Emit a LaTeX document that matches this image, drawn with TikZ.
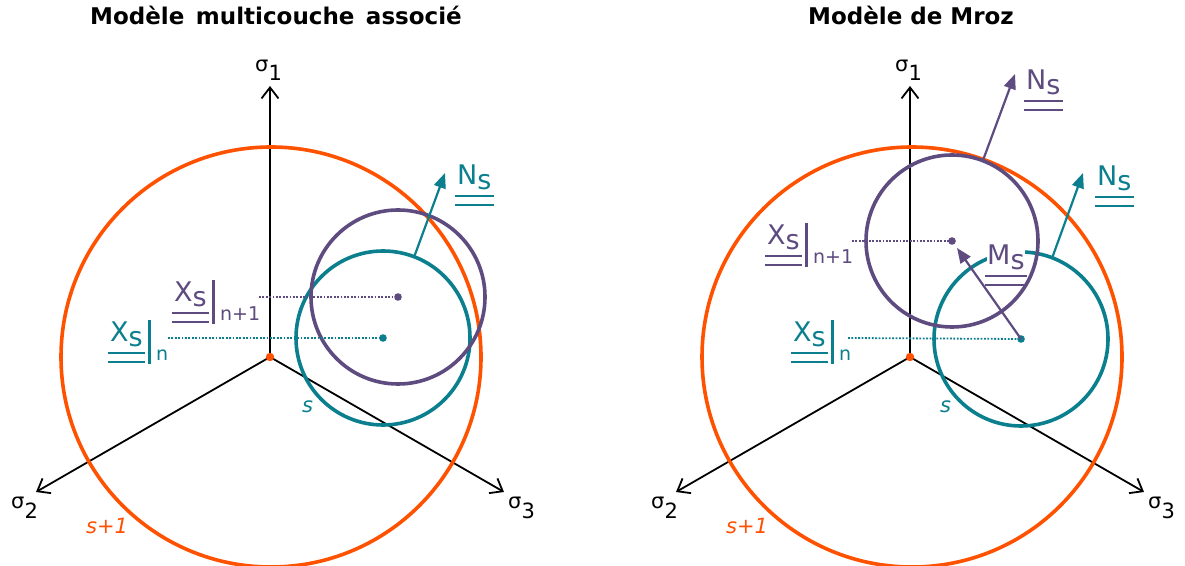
\documentclass[tikz,border=0pt]{standalone}
\usepackage{fontspec}
\setmainfont{DejaVu Sans}
\usetikzlibrary{arrows.meta}
\definecolor{myorange}{HTML}{FF5200}
\definecolor{myteal}{HTML}{0B7F8E}
\definecolor{mypurple}{HTML}{5E4B80}
\newcommand\dblul[2]{%
  \draw[#2,line width=2.2pt] ([xshift=-2pt,yshift=-11pt]#1.base west) -- ([xshift=2pt,yshift=-11pt]#1.base east);
  \draw[#2,line width=2.2pt] ([xshift=-2pt,yshift=-20pt]#1.base west) -- ([xshift=2pt,yshift=-20pt]#1.base east);}
\newcommand\vbar[2]{%
  \draw[#2,line width=2.2pt] ([xshift=6.5pt,yshift=22pt]#1.base east) -- ([xshift=6.5pt,yshift=-22pt]#1.base east);}
\begin{document}
\begin{tikzpicture}[x=1pt,y=1pt,
  axis/.style={line width=1.8pt,-{Straight Barb[length=11pt,width=17pt]}},
  ring/.style={circle,draw,line width=3.6pt,inner sep=0pt,outer sep=0pt,minimum size=#1},
  normarrow/.style={line width=2.2pt,-{Triangle[length=15pt,width=12pt]}},
  guide/.style={line width=1.8pt,dash pattern=on 1.8pt off 1.6pt},
  bigfont/.style={font=\fontsize{27}{31}\selectfont,inner sep=0pt,anchor=base west},
  subfont/.style={font=\fontsize{19}{23}\selectfont,inner sep=0pt,anchor=base west},
  sigfont/.style={font=\fontsize{21}{25}\selectfont,inner sep=0pt,anchor=base west},
  ital/.style={font=\fontsize{21}{25}\selectfont\itshape,inner sep=0pt,anchor=base west},
  title/.style={font=\fontsize{23}{27}\selectfont\bfseries,inner sep=0pt,anchor=base},
  ]
\fill[white] (0,0) rectangle (1185,565);
\useasboundingbox (0,0) rectangle (1185,565);

% titles
\node[title] (t1) at (276,540) {Modèle\hspace{0.5em}multicouche\hspace{0.5em}associé};
\node[title] (t2) at (911,540) {Modèle de Mroz};

% ================= left =================
\coordinate (O1) at (270,208);
\coordinate (A1) at (270,479);
\coordinate (B1) at (36,73);
\coordinate (C1) at (504,73);
\draw[axis] (O1) -- (A1);
\draw[axis] (O1) -- (B1);
\draw[axis] (O1) -- (C1);
\node[sigfont] (sa1) at (255,493) {σ\raisebox{-9pt}{1}};
\node[sigfont] (sb1) at (11,57) {σ\raisebox{-10pt}{2}};
\node[sigfont] (sc1) at (508,57) {σ\raisebox{-10pt}{3}};

\node[ring=420pt,draw=myorange] (R1) at (271,208) {};
\node[ring=174pt,draw=myteal] (T1) at (383,227) {};
\node[ring=174pt,draw=mypurple] (P1) at (398,268) {};

\coordinate (dP1) at (259,268);
\draw[guide,mypurple] (dP1) -- (P1.center);
\fill[mypurple] (P1.center) circle (3.8);
\coordinate (dT1) at (168,227);
\draw[guide,myteal] (dT1) -- (T1.center);
\fill[myteal] (T1.center) circle (3.8);

\coordinate (NT1tip) at (445,392);
\draw[normarrow,myteal] (T1.69.5) -- (NT1tip);
\node[bigfont,text=myteal] (NT1) at (457,380) {N\raisebox{-5pt}{s}};
\dblul{NT1}{myteal}

\node[bigfont,text=mypurple] (XP1) at (174,263) {X\raisebox{-5pt}{s}};
\dblul{XP1}{mypurple}
\vbar{XP1}{mypurple}
\node[subfont,text=mypurple] (nP1) at ([xshift=13pt,yshift=-19pt]XP1.base east) {n+1};

\node[bigfont,text=myteal] (XT1) at (110,223) {X\raisebox{-5pt}{s}};
\dblul{XT1}{myteal}
\vbar{XT1}{myteal}
\node[subfont,text=myteal] (nT1) at ([xshift=13pt,yshift=-19pt]XT1.base east) {n};

\node[ital,text=myteal] (sL1) at (302,152) {s};
\node[ital,text=myorange] (sp1) at (86,32) {s+1};
\fill[myorange] (O1) circle (4.2);

% ================= right =================
\coordinate (O2) at (910,208);
\coordinate (A2) at (910,479);
\coordinate (B2) at (676,73);
\coordinate (C2) at (1144,73);
\draw[axis] (O2) -- (A2);
\draw[axis] (O2) -- (B2);
\draw[axis] (O2) -- (C2);
\node[sigfont] (sa2) at (895,493) {σ\raisebox{-9pt}{1}};
\node[sigfont] (sb2) at (651,57) {σ\raisebox{-10pt}{2}};
\node[sigfont] (sc2) at (1148,57) {σ\raisebox{-10pt}{3}};

\node[ring=420pt,draw=myorange] (R2) at (912,208) {};
\node[ring=174pt,draw=myteal] (T2) at (1021,226) {};
\node[bigfont,text=mypurple,fill=white,inner ysep=3pt] (M2) at (987,300) {M\raisebox{-5pt}{s}};
\node[ring=172pt,draw=mypurple] (P2) at (952,324) {};

\coordinate (dP2) at (852,324);
\draw[guide,mypurple] (dP2) -- (P2.center);
\fill[mypurple] (P2.center) circle (3.8);
\coordinate (dT2) at (848,227);
\draw[guide,myteal] (dT2) -- (T2.center);
\fill[myteal] (T2.center) circle (3.8);

\coordinate (NT2tip) at (1083,392);
\draw[normarrow,myteal] (T2.69.5) -- (NT2tip);
\node[bigfont,text=myteal] (NT2) at (1097,379) {N\raisebox{-5pt}{s}};
\dblul{NT2}{myteal}

\coordinate (NP2tip) at (1015,491);
\draw[normarrow,mypurple] (P2.69.3) -- (NP2tip);
\node[bigfont,text=mypurple] (NP2) at (1026,475) {N\raisebox{-5pt}{s}};
\dblul{NP2}{mypurple}

\coordinate (MP2tip) at (957,317);
\draw[normarrow,mypurple] (T2.center) -- (MP2tip);
\dblul{M2}{mypurple}

\node[bigfont,text=mypurple] (XP2) at (767,320) {X\raisebox{-5pt}{s}};
\dblul{XP2}{mypurple}
\vbar{XP2}{mypurple}
\node[subfont,text=mypurple] (nP2) at ([xshift=13pt,yshift=-19pt]XP2.base east) {n+1};

\node[bigfont,text=myteal] (XT2) at (793,223) {X\raisebox{-5pt}{s}};
\dblul{XT2}{myteal}
\vbar{XT2}{myteal}
\node[subfont,text=myteal] (nT2) at ([xshift=13pt,yshift=-19pt]XT2.base east) {n};

\node[ital,text=myteal] (sL2) at (940,152) {s};
\node[ital,text=myorange] (sp2) at (726,32) {s+1};
\fill[myorange] (O2) circle (4.2);
\end{tikzpicture}
\end{document}
